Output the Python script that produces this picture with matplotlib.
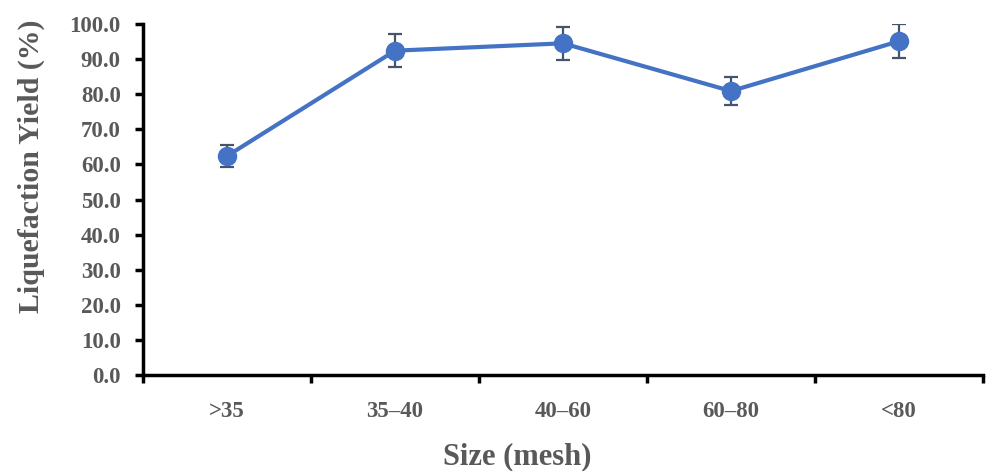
import matplotlib
matplotlib.use("Agg")
import matplotlib.pyplot as plt
import numpy as np

categories = [">35", "35\u201340", "40\u201360", "60\u201380", "<80"]
yield_pct = [62.4, 92.4, 94.5, 80.9, 95.1]
yield_err = [3.1, 4.7, 4.75, 4.1, 4.8]
y_ticks = [0, 10, 20, 30, 40, 50, 60, 70, 80, 90, 100]

plt.rcParams['font.family'] = ['Liberation Serif', 'DejaVu Serif']
gray = '#595959'

fig = plt.figure(figsize=(9.87, 4.71), dpi=100)
ax = fig.add_axes([0.1449, 0.2038, 0.8511, 0.7452])

x = np.arange(len(categories))
ax.errorbar(x, yield_pct, yerr=yield_err, color='#4472C4', lw=3, marker='o',
            markersize=13, ecolor='#44546A', elinewidth=1.6, capsize=5, capthick=1.6,
            zorder=3)

ax.set_xlim(-0.5, len(categories) - 0.5)
ax.set_ylim(0, 100)
ax.set_yticks(y_ticks)
ax.set_yticklabels([f"{v:.1f}" for v in y_ticks])
ax.set_xticks(np.arange(-0.5, len(categories)), minor=False)
ax.set_xticklabels([])
ax.set_xticks(x, minor=True)
ax.set_xticklabels(categories, minor=True)

for s in ['top', 'right']:
    ax.spines[s].set_visible(False)
for s in ['left', 'bottom']:
    ax.spines[s].set_linewidth(2.5)
    ax.spines[s].set_color('black')

ax.tick_params(axis='y', which='major', direction='out', length=6, width=2.5,
               labelsize=16.5, labelcolor=gray, pad=10)
ax.tick_params(axis='x', which='major', direction='out', length=6, width=2.5)
ax.tick_params(axis='x', which='minor', length=0, labelsize=16.5, labelcolor=gray, pad=19)
for lbl in ax.get_yticklabels() + ax.get_xticklabels(minor=True):
    lbl.set_fontweight('bold')

ax.set_ylabel("Liquefaction Yield (%)", fontsize=21.5, fontweight='bold', color=gray)
ax.yaxis.set_label_coords(-0.117, 0.595)
ax.set_xlabel("Size (mesh)", fontsize=22, fontweight='bold', color=gray, labelpad=14)
ax.xaxis.label.set_x(0.446)

fig.savefig("out.png", dpi=100)
